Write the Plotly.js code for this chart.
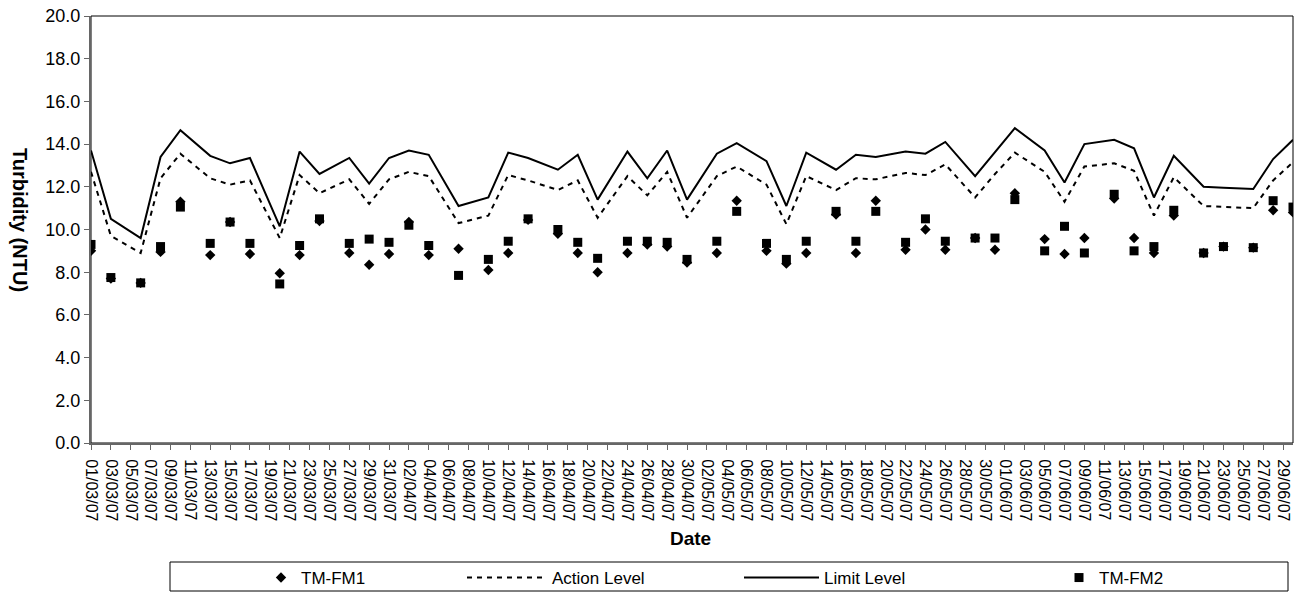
<!DOCTYPE html>
<html>
<head>
<meta charset="utf-8">
<script src="https://cdn.plot.ly/plotly-3.0.1.min.js"></script>
<style>
html,body{margin:0;padding:0;background:#fff;}
#chart{width:1296px;height:593px;}
</style>
</head>
<body>
<div id="chart"></div>
<script>
const sampleDates = [
  "2007-03-01","2007-03-03","2007-03-06","2007-03-08","2007-03-10","2007-03-13","2007-03-15","2007-03-17",
  "2007-03-20","2007-03-22","2007-03-24","2007-03-27","2007-03-29","2007-03-31","2007-04-02","2007-04-04",
  "2007-04-07","2007-04-10","2007-04-12","2007-04-14","2007-04-17","2007-04-19","2007-04-21","2007-04-24",
  "2007-04-26","2007-04-28","2007-04-30","2007-05-03","2007-05-05","2007-05-08","2007-05-10","2007-05-12",
  "2007-05-15","2007-05-17","2007-05-19","2007-05-22","2007-05-24","2007-05-26","2007-05-29","2007-05-31",
  "2007-06-02","2007-06-05","2007-06-07","2007-06-09","2007-06-12","2007-06-14","2007-06-16","2007-06-18",
  "2007-06-21","2007-06-23","2007-06-26","2007-06-28","2007-06-30"
];
const tmFm1 = [
  9.0,7.7,7.5,8.95,11.3,8.8,10.35,8.85,
  7.95,8.8,10.4,8.9,8.35,8.85,10.35,8.8,
  9.1,8.1,8.9,10.45,9.8,8.9,8.0,8.9,
  9.3,9.2,8.45,8.9,11.35,9.0,8.4,8.9,
  10.7,8.9,11.35,9.05,10.0,9.05,9.6,9.05,
  11.7,9.55,8.85,9.6,11.45,9.6,8.9,10.65,
  8.9,9.2,9.15,10.9,10.8
];
const actionLevel = [
  12.7,9.7,8.9,12.4,13.55,12.4,12.1,12.3,
  9.6,12.55,11.7,12.35,11.2,12.35,12.7,12.5,
  10.3,10.65,12.55,12.3,11.85,12.3,10.55,12.5,
  11.6,12.7,10.55,12.5,12.95,12.1,10.25,12.5,
  11.85,12.4,12.35,12.65,12.55,13.05,11.5,12.6,
  13.6,12.7,11.3,12.95,13.1,12.75,10.65,12.45,
  11.1,11.05,11.0,12.3,13.15
];
const limitLevel = [
  13.7,10.5,9.6,13.4,14.65,13.45,13.1,13.35,
  10.15,13.65,12.6,13.35,12.15,13.35,13.7,13.5,
  11.1,11.5,13.6,13.35,12.8,13.5,11.4,13.65,
  12.4,13.7,11.4,13.55,14.05,13.2,11.1,13.6,
  12.8,13.5,13.4,13.65,13.55,14.1,12.5,13.65,
  14.75,13.7,12.2,14.0,14.2,13.8,11.5,13.45,
  12.0,11.95,11.9,13.3,14.2
];
const tmFm2 = [
  9.3,7.75,7.5,9.2,11.05,9.35,10.35,9.35,
  7.45,9.25,10.5,9.35,9.55,9.4,10.2,9.25,
  7.85,8.6,9.45,10.5,10.0,9.4,8.65,9.45,
  9.45,9.4,8.6,9.45,10.85,9.35,8.6,9.45,
  10.85,9.45,10.85,9.4,10.5,9.45,9.6,9.6,
  11.4,9.0,10.15,8.9,11.65,9.0,9.2,10.9,
  8.9,9.2,9.15,11.35,11.05
];
const seriesNames = ["TM-FM1","Action Level","Limit Level","TM-FM2"];
const xAxisTitle = "Date";
const yAxisTitle = "Turbidity (NTU)";

const FONT = "'Liberation Sans', Arial, Helvetica, sans-serif";

// plot area in pixels
const PL = 91, PR = 1293, PT = 16, PB = 443;
const PW = PR - PL, PH = PB - PT;
const px = v => (v - PL) / PW;
const py = v => (PB - v) / PH;

const traces = [
  {x: sampleDates, y: tmFm1, name: seriesNames[0], type: "scatter", mode: "markers",
   legend: "legend",
   marker: {symbol: "diamond", size: 8, color: "#000"}},
  {x: sampleDates, y: actionLevel, name: seriesNames[1], type: "scatter", mode: "lines",
   legend: "legend2",
   line: {color: "#000", width: 2, dash: "5px,5px"}},
  {x: sampleDates, y: limitLevel, name: seriesNames[2], type: "scatter", mode: "lines",
   legend: "legend3",
   line: {color: "#000", width: 2}},
  {x: sampleDates, y: tmFm2, name: seriesNames[3], type: "scatter", mode: "markers",
   legend: "legend4",
   marker: {symbol: "square", size: 9, color: "#000"}}
];

function legendAt(xPix, itemW) {
  return {
    orientation: "h", xref: "container", yref: "container",
    x: xPix / 1296, xanchor: "left", y: 1 - 560/593, yanchor: "top",
    borderwidth: 0, bgcolor: "rgba(0,0,0,0)",
    itemwidth: itemW,
    font: {family: FONT, size: 17, color: "#000"}
  };
}

const layout = {
  width: 1296, height: 593,
  margin: {l: PL, r: 1296 - PR, t: PT, b: 593 - PB, pad: 0},
  paper_bgcolor: "#fff", plot_bgcolor: "#fff",
  font: {family: FONT, color: "#000", size: 16},
  showlegend: true,
  legend: legendAt(261, 30),
  legend2: legendAt(462, 80),
  legend3: legendAt(739, 75),
  legend4: legendAt(1059, 30),
  xaxis: {
    type: "date",
    range: ["2007-03-01", "2007-06-30"],
    tick0: "2007-03-01", dtick: 172800000,
    tickformat: "%d/%m/%y", tickangle: 90,
    ticks: "outside", ticklen: 5, tickcolor: "#666", tickwidth: 1,
    ticklabelstandoff: 6,
    showline: true, linecolor: "#666", linewidth: 2,
    showgrid: false, zeroline: false,
    tickfont: {family: FONT, size: 16, color: "#000"}
  },
  yaxis: {
    range: [0, 20], dtick: 2, tickformat: ".1f",
    ticks: "outside", ticklen: 5, tickcolor: "#666", tickwidth: 1,
    showline: true, linecolor: "#666", linewidth: 2,
    showgrid: false, zeroline: false,
    tickfont: {family: FONT, size: 18, color: "#000"}
  },
  shapes: [
    {type: "rect", xref: "paper", yref: "paper", x0: 0, x1: 1, y0: 0, y1: 1,
     line: {color: "#000", width: 1}, layer: "below"},
    {type: "rect", xref: "paper", yref: "paper", x0: px(170), x1: px(1288), y0: py(591), y1: py(562),
     line: {color: "#000", width: 1}, fillcolor: "rgba(0,0,0,0)", layer: "below"}
  ],
  annotations: [
    {text: "<b>" + yAxisTitle + "</b>", textangle: 90, xref: "paper", yref: "paper",
     x: px(20), y: py(220), xanchor: "center", yanchor: "middle", showarrow: false,
     font: {family: FONT, size: 20, color: "#000"}},
    {text: "<b>" + xAxisTitle + "</b>", xref: "paper", yref: "paper",
     x: px(690), y: py(538), xanchor: "center", yanchor: "middle", showarrow: false,
     font: {family: FONT, size: 19, color: "#000"}}
  ]
};

Plotly.newPlot("chart", traces, layout, {displayModeBar: false, staticPlot: true});
</script>
</body>
</html>
